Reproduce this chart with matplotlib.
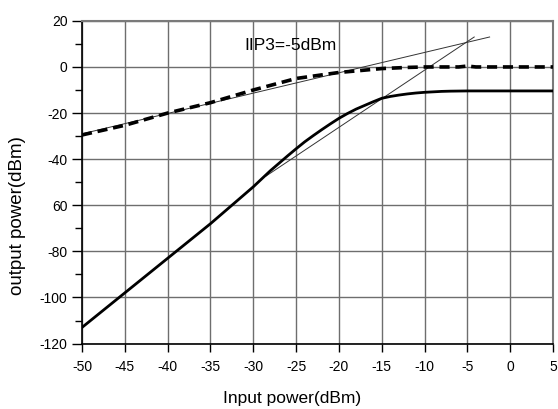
import matplotlib
matplotlib.use('Agg')
import matplotlib.pyplot as plt
import numpy as np

plt.rcParams['font.family'] = ['Liberation Sans', 'DejaVu Sans']

# third order product (solid thick)
im3_x = [-50, -45, -40, -35, -30, -28, -27, -26, -25, -24, -23, -22, -21, -20, -19, -18, -17,
         -16, -15, -14, -13, -12, -11, -10, -9, -8, -7, -5, 0, 5]
im3_y = [-113, -98, -83, -68, -52, -45, -41.8, -38.6, -35.5, -32.5, -29.8, -27.2, -24.7, -22.3,
         -20.2, -18.3, -16.7, -15.1, -13.6, -12.8, -12.2, -11.7, -11.3, -11.0, -10.8, -10.6,
         -10.5, -10.4, -10.4, -10.4]

# fundamental (dashed thick)
fund_x = [-50, -45, -40, -35, -30, -25, -20, -15, -12, -10, -6, -5, -4, 0, 5]
fund_y = [-29.5, -25.3, -20, -15.5, -10, -5, -2.4, -0.7, -0.2, 0, 0, 0.4, 0, 0, 0]

# extrapolated lines (thin)
fund_ext_x = [-50, -2.4]
fund_ext_y = [-29, 13]
im3_ext_x = [-28.5, -4.2]
im3_ext_y = [-47.3, 13]

xticks = [-50, -45, -40, -35, -30, -25, -20, -15, -10, -5, 0, 5]
yticks = [20, 0, -20, -40, -60, -80, -100, -120]
ytick_labels = ['20', '0', '-20', '-40', '60', '-80', '-100', '-120']

fig = plt.figure(figsize=(5.58, 4.09), dpi=100)
ax = fig.add_axes([0.147, 0.160, 0.844, 0.789])

ax.plot(fund_ext_x, fund_ext_y, color='#333333', lw=0.7, zorder=3)
ax.plot(im3_ext_x, im3_ext_y, color='#333333', lw=0.7, zorder=3)
ax.plot(im3_x, im3_y, color='black', lw=2.0, zorder=4)
ax.plot(fund_x, fund_y, color='black', lw=2.6, linestyle=(0, (2.8, 1.6)), zorder=4)

ax.text(-31, 9.5, 'IIP3=-5dBm', fontsize=12.5, va='center', ha='left')

ax.set_xlim(-50, 5)
ax.set_ylim(-120, 20)
ax.set_xticks(xticks)
ax.set_xticklabels([str(v) for v in xticks])
ax.set_yticks(yticks)
ax.set_yticklabels(ytick_labels)
ax.set_yticks(np.arange(-110, 20, 20), minor=True)

ax.grid(True, which='major', color='#6e6e6e', lw=1.0)
ax.tick_params(axis='x', which='major', labelsize=10, length=6, width=1.0, color='black', pad=6)
ax.tick_params(axis='y', which='major', labelsize=10, length=7, width=1.0, color='black', pad=3.5)
ax.tick_params(axis='y', which='minor', length=5, width=1.0, color='black')

for side in ['top', 'right']:
    ax.spines[side].set_color('#7a7a7a')
    ax.spines[side].set_linewidth(1.5)
for side in ['left', 'bottom']:
    ax.spines[side].set_color('black')
    ax.spines[side].set_linewidth(1.2)

ax.set_xlabel('Input power(dBm)', fontsize=12.5)
ax.xaxis.set_label_coords(0.447, -0.147)
ax.set_ylabel('output power(dBm)', fontsize=13.5)
ax.yaxis.set_label_coords(-0.119, 0.398)

fig.savefig('out.png', dpi=100)
